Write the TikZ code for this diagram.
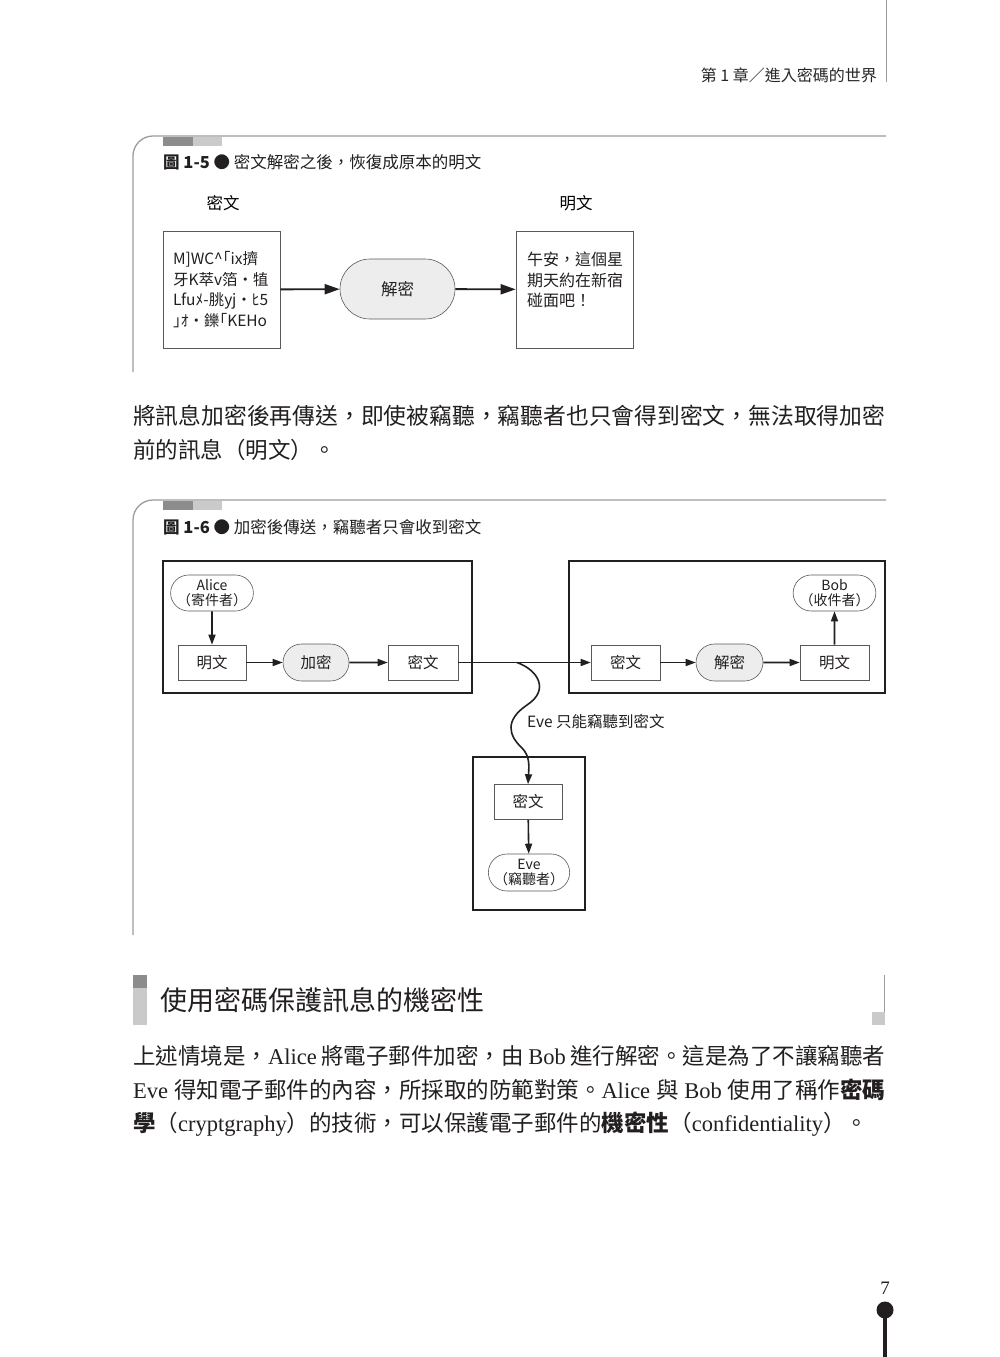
\documentclass[tikz,border=0pt]{standalone}
\usepackage{fontspec}
\setmainfont{Liberation Serif}
\newfontfamily\zh{Noto Sans CJK TC}
\usetikzlibrary{arrows.meta,shapes.misc}
\definecolor{frameGray}{HTML}{9C9C9C}
\definecolor{tabDark}{HTML}{8C8C8C}
\definecolor{tabLight}{HTML}{CACACA}
\definecolor{capFill}{HTML}{EDEDED}
\definecolor{inkBlack}{HTML}{231F20}

\begin{document}
\begin{tikzpicture}[x=1pt, y=-1pt, >={Triangle[length=10pt,width=7pt]},
    frame/.style={draw=frameGray, line width=1.3pt, rounded corners=20pt},
    caption/.style={anchor=west, inner sep=0pt, text=inkBlack, font=\zh\fontsize{16.5}{19}\selectfont},
    box/.style={draw=black!65, line width=0.6pt, fill=white, inner sep=0pt, text=inkBlack, font=\zh\fontsize{15.5}{18}\selectfont},
    capsule/.style={box, rounded rectangle},
    who/.style={capsule, align=center, font=\zh\fontsize{14}{15}\selectfont},
    outer/.style={draw=inkBlack, line width=1.8pt, inner sep=0pt},
    flow/.style={->, draw=inkBlack, line width=1.6pt},
    bigflow/.style={flow, line width=1.9pt, -{Triangle[length=15pt,width=10pt]}},
    bodyline/.style={anchor=west, inner sep=0pt, text=inkBlack, font=\fontsize{22.5}{26}\selectfont}]
  \fill[white] (0,0) rectangle (1000,1357);
  \useasboundingbox (0,0) rectangle (1000,1357);

  % running head
  \draw[frameGray, line width=0.8pt] (886,0) -- (886,82);
  \node[anchor=east, inner sep=0pt, text=black!85, font=\zh\fontsize{16}{18}\selectfont] (chapHead) at (877,75) {第 1 章／進入密碼的世界};

  % figure 1-5
  \draw[frame] (886,136) -- (133,136) -- (133,372);
  \fill[tabDark] (163,137) rectangle (193,146);
  \fill[tabLight] (193,137) rectangle (222,146);
  \node[caption] (capFive) at (163,162) {{\bfseries 圖 1-5} ● 密文解密之後，恢復成原本的明文};
  \node[inner sep=0pt, font=\zh\fontsize{16.5}{18}\selectfont] (cipherLabel) at (223,203) {密文};
  \node[inner sep=0pt, font=\zh\fontsize{16.5}{18}\selectfont] (plainLabel) at (576,203) {明文};
  \node[box, minimum width=117pt, minimum height=117pt, inner xsep=10pt, text width=97pt, align=left,
        font=\zh\fontsize{15.5}{20.5}\selectfont] (cipherBox) at (221.5,289.5)
    {\mbox{M]WC\textasciicircum｢ix擠}\\\mbox{牙K萃v箔・犆}\\\mbox{Lfuﾒ-朓yj・ﾋ5}\\\mbox{｣ｵ・鑠｢KEHo}};
  \node[capsule, fill=capFill, minimum width=115pt, minimum height=60pt, font=\zh\fontsize{16.5}{18}\selectfont] (decFive) at (397.5,289) {解密};
  \node[box, minimum width=117pt, minimum height=117pt, inner xsep=11pt, text width=95pt, align=left,
        font=\zh\fontsize{16}{20.5}\selectfont] (plainBox) at (574.5,289.5)
    {午安，這個星\\期天約在新宿\\碰面吧！\\ \mbox{}};
  \draw[bigflow] (cipherBox) -- (decFive);
  \draw[bigflow] (decFive) -- (plainBox);

  % text between figures
  \node[bodyline, font=\fontsize{22.79}{26}\selectfont] (lineA) at (133,416) {\zh 將訊息加密後再傳送，即使被竊聽，竊聽者也只會得到密文，無法取得加密};
  \node[bodyline] (lineB) at (133,450) {\zh 前的訊息（明文）。};

  % figure 1-6
  \draw[frame] (886,500) -- (133,500) -- (133,935);
  \fill[tabDark] (163,501) rectangle (193,510);
  \fill[tabLight] (193,501) rectangle (222,510);
  \node[caption] (capSix) at (163,527) {{\bfseries 圖 1-6} ● 加密後傳送，竊聽者只會收到密文};

  \node[outer, minimum width=309pt, minimum height=132pt] (aliceSide) at (317.5,627) {};
  \node[outer, minimum width=316pt, minimum height=132pt] (bobSide) at (727,627) {};
  \node[outer, minimum width=112pt, minimum height=153pt] (eveSide) at (529,833.5) {};

  \node[who, minimum width=70pt, minimum height=36pt] (alice) at (212,593) {Alice\\（寄件者）};
  \node[box, minimum width=68pt, minimum height=35pt] (alicePlain) at (212,662.5) {明文};
  \node[capsule, fill=capFill, minimum width=66pt, minimum height=37pt] (encrypt) at (316,662.5) {加密};
  \node[box, minimum width=70pt, minimum height=35pt] (aliceCipher) at (423,662.5) {密文};

  \node[box, minimum width=69pt, minimum height=35pt] (bobCipher) at (625.5,662.5) {密文};
  \node[capsule, fill=capFill, minimum width=67pt, minimum height=37pt] (decrypt) at (729.5,662.5) {解密};
  \node[box, minimum width=69pt, minimum height=35pt] (bobPlain) at (834.5,662.5) {明文};
  \node[who, minimum width=71pt, minimum height=36pt] (bob) at (834.5,593) {Bob\\（收件者）};

  \node[box, minimum width=68pt, minimum height=35pt] (eveCipher) at (528,802) {密文};
  \node[who, minimum width=70pt, minimum height=37pt] (eve) at (529,872.5) {Eve\\（竊聽者）};

  \foreach \a/\b in {alice/alicePlain, alicePlain/encrypt, encrypt/aliceCipher, aliceCipher/bobCipher,
                     bobCipher/decrypt, decrypt/bobPlain, bobPlain/bob, eveCipher/eve}
    { \draw[flow] (\a) -- (\b); }

  \coordinate (tap) at (517,662.5);
  \draw[flow] (tap) .. controls (538,670) and (550,690) .. (527,705)
                    .. controls (505,720) and (508,735) .. (522,748)
                    .. controls (530,756) and (529,766) .. (eveCipher.north);
  \node[anchor=west, inner sep=0pt, text=inkBlack, font=\zh\fontsize{15.5}{18}\selectfont] (tapLabel) at (527,722) {Eve 只能竊聽到密文};

  % section heading
  \fill[tabDark] (133,975) rectangle (147,987.5);
  \fill[tabLight] (133,987.5) rectangle (147,1025);
  \draw[frameGray, line width=1pt] (884.5,975) -- (884.5,1025);
  \fill[tabLight] (872,1012) rectangle (885,1025);
  \node[anchor=west, inner sep=0pt, text=inkBlack, font=\zh\fontsize{27}{30}\selectfont] (secHead) at (160,1000) {使用密碼保護訊息的機密性};

  % body paragraph
  \node[bodyline] (lineC) at (133,1056) {\makebox[752pt][s]{{\zh 上述情境是，}Alice {\zh 將電子郵件加密，由} Bob {\zh 進行解密。這是為了不讓竊聽者}}};
  \node[bodyline] (lineD) at (133,1090) {\makebox[752pt][s]{Eve {\zh 得知電子郵件的內容，所採取的防範對策。}Alice {\zh 與} Bob {\zh 使用了稱作\bfseries 密碼}}};
  \node[bodyline] (lineE) at (133,1124) {{\zh\bfseries 學}{\zh （}cryptgraphy{\zh ）的技術，可以保護電子郵件的}{\zh\bfseries 機密性}{\zh （}confidentiality{\zh ）。}};

  % folio
  \node[inner sep=0pt, text=inkBlack, font=\fontsize{19}{21}\selectfont] (pageNo) at (885,1288) {7};
  \fill[inkBlack] (885,1310) circle (8.5);
  \draw[inkBlack, line width=3.3pt] (885,1310) -- (885,1357);
\end{tikzpicture}
\end{document}
